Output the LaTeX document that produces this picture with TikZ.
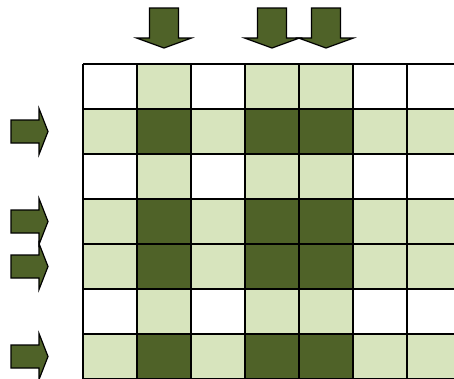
\documentclass[tikz,border=0pt]{standalone}
\usetikzlibrary{calc}
\definecolor{olivedark}{HTML}{4F6228}
\definecolor{olivelight}{HTML}{D7E4BD}
\begin{document}
\begin{tikzpicture}[x=1pt,y=-1pt,
  cellline/.style={draw=black,line width=1.5pt},
  blockarrow/.style={fill=olivedark,draw=black,line width=1.2pt,line join=miter}]
\def\cw{54}
\def\ch{45}
\def\gx{83}
\def\gy{64}
\useasboundingbox (0,0) rectangle (454,378);
\clip (0,0) rectangle (454,378);
% grid of cells
\foreach \r in {1,...,7}{
  \foreach \c in {1,...,7}{
    \pgfmathtruncatemacro{\rowon}{(\r==2)||(\r==4)||(\r==5)||(\r==7)}
    \pgfmathtruncatemacro{\colon}{(\c==2)||(\c==4)||(\c==5)}
    \pgfmathtruncatemacro{\lvl}{\rowon+\colon}
    \ifcase\lvl \def\cellcol{white}\or \def\cellcol{olivelight}\or \def\cellcol{olivedark}\fi
    \fill[\cellcol] ({\gx+\cw*(\c-1)},{\gy+\ch*(\r-1)}) rectangle ++(\cw,\ch);
  }
}
\foreach \c in {0,...,7}
  \draw[cellline] ({\gx+\cw*\c},\gy) -- ++(0,{7*\ch});
\foreach \r in {0,...,7}
  \draw[cellline] (\gx,{\gy+\ch*\r}) -- ++({7*\cw},0);
% arrows on top
\foreach \c in {2,4,5}{
  \pgfmathsetmacro{\cx}{\gx+\cw*(\c-0.5)}
  \draw[blockarrow] (\cx-14.5,8) -- (\cx+14.5,8) -- (\cx+14.5,38) -- (\cx+27.5,38)
    -- (\cx,48) -- (\cx-27.5,38) -- (\cx-14.5,38) -- cycle;
}
% arrows on the left
\foreach \r in {2,4,5,7}{
  \pgfmathsetmacro{\cy}{\gy+\ch*(\r-0.5)}
  \draw[blockarrow] (11,\cy-11.5) -- (39,\cy-11.5) -- (39,\cy-23) -- (48,\cy)
    -- (39,\cy+23) -- (39,\cy+11.5) -- (11,\cy+11.5) -- cycle;
}
\end{tikzpicture}
\end{document}
